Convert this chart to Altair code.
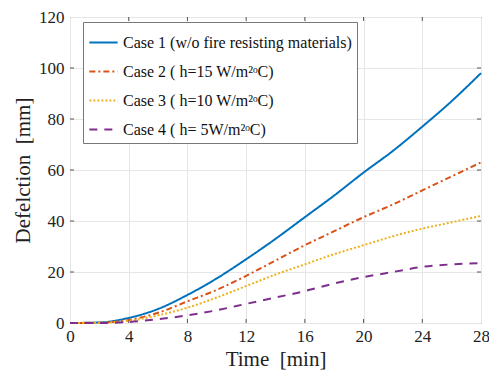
import altair as alt
import pandas as pd

time_min = [0, 2, 4, 6, 8, 10, 12, 14, 16, 18, 20, 22, 24, 26, 28]
case1 = [0, 0.2, 2, 5.5, 11, 17.5, 25, 33, 41.5, 50, 59, 67.5, 77, 87, 98]
case2 = [0, 0.1, 1.2, 4, 8.5, 13, 18.5, 24.5, 30.5, 36, 41.5, 46.5, 52, 57.5, 63]
case3 = [0, 0.1, 0.8, 3, 6, 10, 14.5, 19, 23, 27, 30.5, 34, 37, 39.5, 42]
case4 = [0, 0, 0.4, 1.5, 3, 5, 7.5, 10, 12.5, 15.5, 18, 20, 22, 23, 23.5]

names = [
    "Case 1 (w/o fire resisting materials)",
    "Case 2 ( h=15 W/m²ᵒC)",
    "Case 3 ( h=10 W/m²ᵒC)",
    "Case 4 ( h= 5W/m²ᵒC)",
]
colors = ["#0072BD", "#D95319", "#EDB120", "#7E2F8E"]
dashes = [[1, 0], [6, 3, 2, 3], [2, 2], [8, 7]]
x_ticks = [0, 4, 8, 12, 16, 20, 24, 28]
y_ticks = [0, 20, 40, 60, 80, 100, 120]

rows = []
for name, vals in zip(names, [case1, case2, case3, case4]):
    for t, v in zip(time_min, vals):
        rows.append({"time": t, "defl": v, "case": name})
df = pd.DataFrame(rows)

FONT = "Liberation Serif"
W, H = 411, 306

lines = alt.Chart(df).mark_line(strokeWidth=2, interpolate="monotone").encode(
    x=alt.X("time:Q", scale=alt.Scale(domain=[0, 28], nice=False),
            axis=alt.Axis(values=x_ticks, title="Time\u00a0\u00a0[min]", titleFontSize=21)),
    y=alt.Y("defl:Q", scale=alt.Scale(domain=[0, 120], nice=False),
            axis=alt.Axis(values=y_ticks, title="Defelction\u00a0\u00a0[mm]", titleFontSize=21)),
    color=alt.Color("case:N", scale=alt.Scale(domain=names, range=colors),
                    legend=alt.Legend(title=None)),
    strokeDash=alt.StrokeDash("case:N", scale=alt.Scale(domain=names, range=dashes),
                              legend=alt.Legend(title=None)),
)

tick_df = pd.DataFrame({"t": x_ticks[1:-1]})
top_ticks = alt.Chart(tick_df).mark_rule(color="#555", strokeWidth=1).encode(
    x="t:Q", y=alt.value(0), y2=alt.value(4))
bot_ticks = alt.Chart(tick_df).mark_rule(color="#555", strokeWidth=1).encode(
    x="t:Q", y=alt.value(H), y2=alt.value(H - 4))
ytick_df = pd.DataFrame({"v": y_ticks[1:-1]})
left_ticks = alt.Chart(ytick_df).mark_rule(color="#555", strokeWidth=1).encode(
    y="v:Q", x=alt.value(0), x2=alt.value(4))
right_ticks = alt.Chart(ytick_df).mark_rule(color="#555", strokeWidth=1).encode(
    y="v:Q", x=alt.value(W), x2=alt.value(W - 4))

chart = alt.layer(top_ticks, bot_ticks, left_ticks, right_ticks, lines).properties(
    width=W, height=H,
    autosize=alt.AutoSizeParams(type="none"),
    padding={"left": 62, "top": 9, "right": 8, "bottom": 51},
).configure_view(
    stroke="#444", strokeWidth=1
).configure_axis(
    labelFont=FONT, titleFont=FONT, labelFontSize=17,
    labelColor="#222", titleColor="#222", titleFontWeight="normal",
    grid=True, gridColor="#e6e6e6", gridWidth=1, labelFlush=False,
    domain=False, ticks=False, labelPadding=6,
).configure_axisX(titlePadding=4, labelPadding=5).configure_axisY(titlePadding=5).configure_legend(
    orient="none", legendX=13, legendY=5,
    labelFont=FONT, labelFontSize=16, labelColor="#111",
    symbolType="stroke", symbolSize=800, symbolStrokeWidth=2,
    strokeColor="#777", fillColor="white", padding=5, rowPadding=5,
    labelLimit=400, labelOffset=4,
)

chart.save("out.html", embed_options={"renderer": "svg", "actions": False})
